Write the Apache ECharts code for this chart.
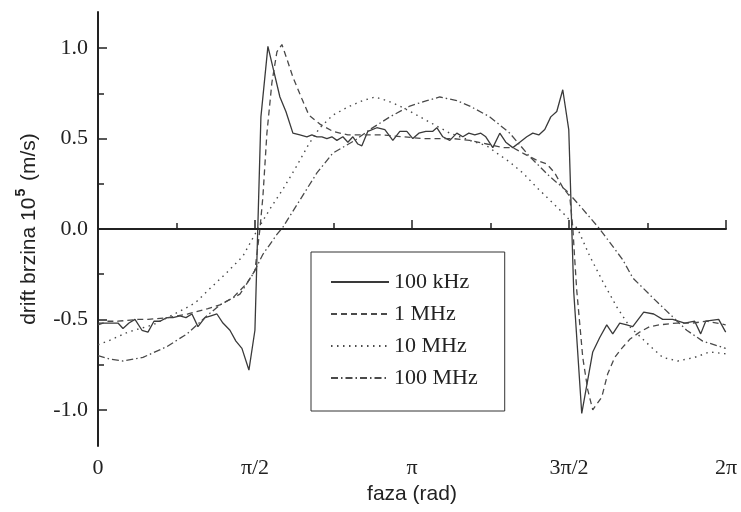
<!DOCTYPE html>
<html><head><meta charset="utf-8">
<script src="https://cdn.jsdelivr.net/npm/echarts@6/dist/echarts.min.js"></script>
<style>html,body{margin:0;padding:0;background:#fff}#c{width:741px;height:512px}</style>
</head><body><div id="c"></div>
<script>
const seriesNames = ['100 kHz', '1 MHz', '10 MHz', '100 MHz'];
const xTickLabels = ['0', 'π/2', 'π', '3π/2', '2π'];
const xTickValues = [0, Math.PI / 2, Math.PI, 3 * Math.PI / 2, 2 * Math.PI];
const xMinorTickValues = [Math.PI / 4, 3 * Math.PI / 4, 5 * Math.PI / 4, 7 * Math.PI / 4];
const yTickValues = [-1.0, -0.5, 0.0, 0.5, 1.0];
const yMinorTickValues = [-0.75, -0.25, 0.25, 0.75];

const x100k = [0.00,0.07,0.13,0.20,0.25,0.31,0.37,0.44,0.50,0.56,0.62,0.69,0.75,0.82,0.88,0.94,1.00,1.07,1.13,1.19,1.25,1.32,1.38,1.44,1.51,1.57,1.63,1.70,1.76,1.82,1.88,1.95,2.02,2.09,2.14,2.19,2.24,2.29,2.34,2.39,2.45,2.50,2.55,2.60,2.64,2.70,2.79,2.87,2.95,3.02,3.09,3.15,3.21,3.28,3.35,3.39,3.45,3.52,3.59,3.65,3.71,3.77,3.83,3.88,3.95,4.02,4.08,4.15,4.22,4.29,4.35,4.41,4.47,4.53,4.59,4.65,4.71,4.76,4.84,4.95,5.02,5.09,5.15,5.22,5.29,5.35,5.46,5.56,5.65,5.75,5.87,5.97,6.03,6.08,6.21,6.28];
const y100k = [-0.52,-0.52,-0.52,-0.52,-0.55,-0.52,-0.50,-0.56,-0.57,-0.51,-0.51,-0.49,-0.49,-0.48,-0.49,-0.47,-0.54,-0.49,-0.48,-0.47,-0.52,-0.56,-0.62,-0.66,-0.78,-0.56,0.62,1.01,0.87,0.73,0.65,0.53,0.52,0.51,0.52,0.51,0.51,0.50,0.51,0.49,0.51,0.48,0.51,0.47,0.46,0.54,0.56,0.55,0.49,0.54,0.54,0.50,0.53,0.54,0.54,0.56,0.51,0.49,0.53,0.51,0.53,0.52,0.53,0.51,0.45,0.53,0.48,0.45,0.48,0.51,0.53,0.52,0.55,0.62,0.65,0.77,0.55,-0.35,-1.02,-0.68,-0.60,-0.53,-0.58,-0.52,-0.53,-0.54,-0.46,-0.47,-0.50,-0.50,-0.52,-0.51,-0.58,-0.51,-0.50,-0.57];

const x1M = [0.00,0.10,0.20,0.40,0.50,0.70,0.90,1.10,1.22,1.35,1.49,1.57,1.62,1.65,1.69,1.74,1.79,1.84,1.89,1.95,2.04,2.11,2.22,2.35,2.50,2.72,2.85,3.05,3.25,3.55,3.72,3.89,4.05,4.15,4.25,4.39,4.49,4.57,4.65,4.72,4.75,4.77,4.79,4.85,4.90,4.95,5.04,5.10,5.17,5.24,5.32,5.42,5.52,5.62,5.79,5.95,6.09,6.28];
const y1M = [-0.53,-0.51,-0.51,-0.50,-0.50,-0.49,-0.47,-0.44,-0.42,-0.38,-0.30,-0.23,0.00,0.18,0.53,0.81,0.98,1.02,0.94,0.84,0.72,0.63,0.58,0.54,0.52,0.52,0.52,0.51,0.50,0.50,0.49,0.47,0.45,0.45,0.42,0.38,0.36,0.31,0.23,0.18,0.01,-0.17,-0.34,-0.71,-0.89,-1.00,-0.93,-0.80,-0.71,-0.66,-0.61,-0.57,-0.54,-0.53,-0.52,-0.52,-0.51,-0.53];

const x10M = [0.00,0.10,0.30,0.55,0.80,0.97,1.10,1.29,1.45,1.60,1.72,1.85,1.99,2.11,2.22,2.35,2.52,2.65,2.77,2.89,3.02,3.19,3.32,3.52,3.72,3.89,3.99,4.12,4.25,4.39,4.52,4.65,4.80,4.92,5.05,5.19,5.32,5.49,5.65,5.80,5.97,6.12,6.28];
const y10M = [-0.64,-0.62,-0.57,-0.53,-0.46,-0.41,-0.34,-0.24,-0.15,0.00,0.11,0.22,0.35,0.47,0.56,0.63,0.68,0.71,0.73,0.71,0.68,0.63,0.59,0.53,0.49,0.46,0.42,0.37,0.31,0.23,0.16,0.09,0.00,-0.15,-0.29,-0.43,-0.54,-0.63,-0.71,-0.73,-0.71,-0.68,-0.69];

const x100M = [0.00,0.12,0.25,0.45,0.69,0.89,1.09,1.22,1.42,1.55,1.65,1.79,1.85,2.02,2.19,2.35,2.57,2.72,2.92,3.12,3.29,3.42,3.59,3.72,3.92,4.12,4.32,4.52,4.69,4.85,5.02,5.25,5.35,5.55,5.72,5.89,6.05,6.28];
const y100M = [-0.70,-0.72,-0.73,-0.71,-0.65,-0.58,-0.48,-0.42,-0.36,-0.25,-0.14,-0.03,0.01,0.16,0.31,0.42,0.49,0.55,0.62,0.68,0.71,0.73,0.71,0.68,0.62,0.53,0.40,0.29,0.21,0.11,0.00,-0.17,-0.27,-0.38,-0.47,-0.56,-0.62,-0.66];

function zip(xs, ys) { return xs.map((x, i) => [x, ys[i]]); }

const serif = "'Liberation Serif', 'Times New Roman', serif";
const sans = "'Liberation Sans', Arial, sans-serif";
const lineStyles = [
  { color: '#3a3a3a', width: 1.3, type: 'solid' },
  { color: '#4a4a4a', width: 1.3, type: [6, 4] },
  { color: '#4a4a4a', width: 1.4, type: [1.5, 4.5] },
  { color: '#4a4a4a', width: 1.3, type: [7, 3, 1.5, 3] }
];
const dataSets = [zip(x100k, y100k), zip(x1M, y1M), zip(x10M, y10M), zip(x100M, y100M)];

const chart = echarts.init(document.getElementById('c'), null, { renderer: 'canvas' });
const series = seriesNames.map((name, i) => ({
  name: name,
  type: 'line',
  data: dataSets[i],
  symbol: 'none',
  showSymbol: false,
  lineStyle: lineStyles[i],
  itemStyle: { color: lineStyles[i].color },
  silent: true,
  z: 3
}));
series[0].markLine = {
  silent: true,
  symbol: 'none',
  label: { show: false },
  lineStyle: { color: '#222', width: 1.6, type: 'solid' },
  data: [{ yAxis: 0 }]
};

chart.setOption({
  animation: false,
  backgroundColor: '#fff',
  grid: { left: 98, top: 12, width: 628, height: 434, containLabel: false, outerBoundsMode: 'none' },
  legend: {
    orient: 'vertical', left: 311, top: 252,
    itemWidth: 58, itemHeight: 14, itemGap: 10,
    padding: [19, 27, 22, 19],
    borderColor: '#333', borderWidth: 1,
    itemStyle: { opacity: 0, borderWidth: 0 },
    textStyle: { fontFamily: serif, fontSize: 22, color: '#222' },
    data: seriesNames,
    selectedMode: false
  },
  xAxis: [{
    type: 'value', min: 0, max: 2 * Math.PI,
    name: 'faza (rad)', nameLocation: 'middle', nameGap: 35,
    nameTextStyle: { fontFamily: sans, fontSize: 21, color: '#222' },
    axisLine: { show: true, lineStyle: { color: '#222', width: 2 } },
    axisTick: { show: true, inside: true, length: 9, lineStyle: { color: '#222', width: 1.5 }, customValues: xTickValues },
    axisLabel: {
      show: true, margin: 11, fontFamily: serif, fontSize: 22, color: '#222',
      customValues: xTickValues,
      formatter: v => xTickLabels[Math.round(v / (Math.PI / 2))]
    },
    splitLine: { show: false }
  }, {
    type: 'value', min: 0, max: 2 * Math.PI, position: 'bottom',
    axisLine: { show: false },
    axisTick: { show: true, inside: true, length: 6, lineStyle: { color: '#222', width: 1.5 }, customValues: xMinorTickValues },
    axisLabel: { show: false },
    splitLine: { show: false }
  }],
  yAxis: [{
    type: 'value', min: -1.2, max: 1.2,
    name: '{t|drift brzina 10}{s|5}{t| (m/s)}', nameLocation: 'middle', nameGap: 58,
    nameTextStyle: {
      fontFamily: sans, fontSize: 21, color: '#222',
      rich: {
        t: { fontFamily: sans, fontSize: 21, color: '#222', lineHeight: 26, verticalAlign: 'bottom' },
        s: { fontFamily: sans, fontSize: 14, fontWeight: 'bold', color: '#222', lineHeight: 26, verticalAlign: 'top', padding: [0, 2, 0, 1] }
      }
    },
    axisLine: { show: true, lineStyle: { color: '#222', width: 2 } },
    axisTick: { show: true, inside: true, length: 9, lineStyle: { color: '#222', width: 1.5 }, customValues: yTickValues },
    axisLabel: {
      show: true, margin: 10, fontFamily: serif, fontSize: 22, color: '#222',
      customValues: yTickValues,
      formatter: v => v.toFixed(1)
    },
    splitLine: { show: false }
  }, {
    type: 'value', min: -1.2, max: 1.2, position: 'left',
    axisLine: { show: false },
    axisTick: { show: true, inside: true, length: 6, lineStyle: { color: '#222', width: 1.5 }, customValues: yMinorTickValues },
    axisLabel: { show: false },
    splitLine: { show: false }
  }],
  series: series
});
</script>
</body></html>
